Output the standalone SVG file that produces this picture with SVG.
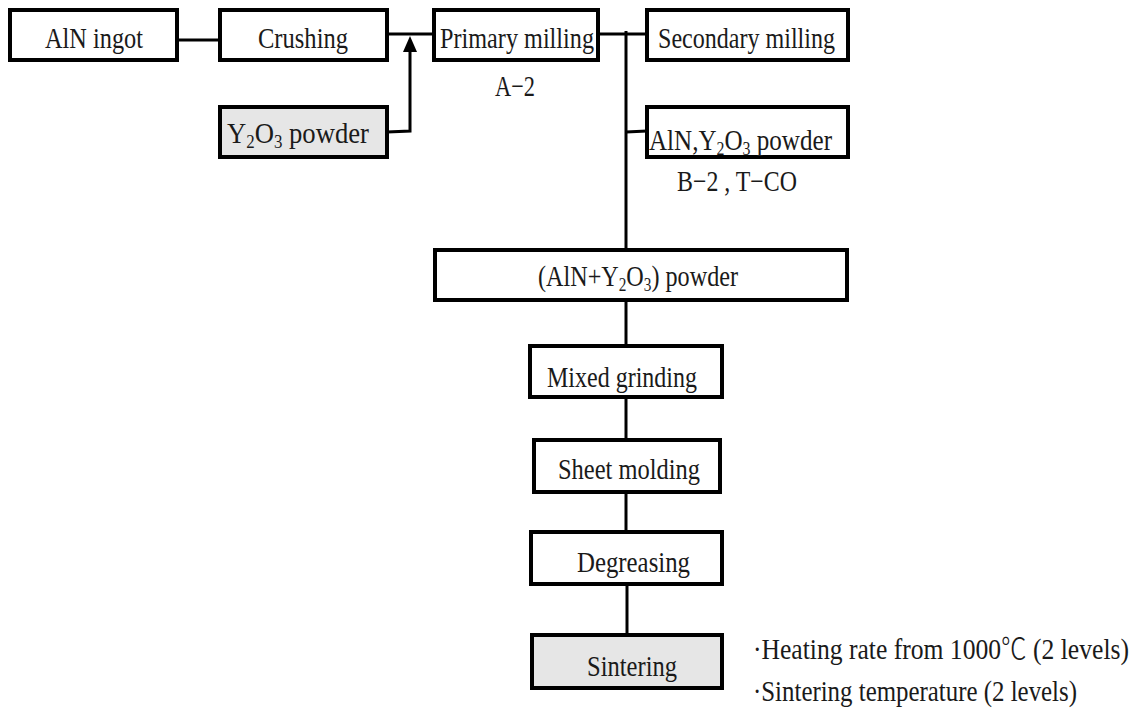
<svg xmlns="http://www.w3.org/2000/svg" width="1143" height="711" viewBox="0 0 1143 711">
  <defs>
    <style>
      .box { fill: #ffffff; stroke: #000000; stroke-width: 4; }
      .shade { fill: #e6e6e6; }
      .wire { fill: none; stroke: #000000; stroke-width: 3; }
      .lbl { font-family: "Liberation Serif", "DejaVu Serif", serif; font-size: 30px; fill: #1a1a1a; }
      .sub { font-size: 19px; }
      .unit { font-family: "Noto Sans CJK KR", "DejaVu Sans", sans-serif; font-weight: 300; }
    </style>
  </defs>
  <rect width="1143" height="711" fill="#ffffff"/>

  <!-- connectors -->
  <g id="connectors">
    <line class="wire" x1="177" y1="40" x2="220" y2="40" stroke-width="4"/>
    <line class="wire" x1="387" y1="34" x2="434" y2="34"/>
    <polyline class="wire" points="387,132 410,131 410,52"/>
    <path d="M403,52 L417,52 L410,36 Z" fill="#000000"/>
    <line class="wire" x1="598" y1="34" x2="647" y2="34"/>
    <line class="wire" x1="626" y1="31" x2="626" y2="250" stroke-width="4"/>
    <line class="wire" x1="626" y1="132" x2="647" y2="131"/>
    <line class="wire" x1="626" y1="300" x2="626" y2="346"/>
    <line class="wire" x1="626" y1="397" x2="626" y2="440"/>
    <line class="wire" x1="626" y1="492" x2="626" y2="532"/>
    <line class="wire" x1="627" y1="584" x2="627" y2="635"/>
  </g>

  <g id="aln-ingot">
    <rect class="box" x="10" y="10" width="167" height="50"/>
    <text class="lbl" x="45" y="48" textLength="98" lengthAdjust="spacingAndGlyphs">AlN ingot</text>
  </g>

  <g id="crushing">
    <rect class="box" x="220" y="10" width="167" height="50"/>
    <text class="lbl" x="258" y="48" textLength="90" lengthAdjust="spacingAndGlyphs">Crushing</text>
  </g>

  <g id="y2o3-powder">
    <rect class="box shade" x="220" y="107" width="167" height="50"/>
    <text class="lbl" x="227" y="143" textLength="142" lengthAdjust="spacingAndGlyphs">Y<tspan class="sub" dy="5">2</tspan><tspan dy="-5">O</tspan><tspan class="sub" dy="5">3</tspan><tspan dy="-5"> powder</tspan></text>
  </g>

  <g id="primary-milling">
    <rect class="box" x="434" y="10" width="164" height="50"/>
    <text class="lbl" x="440" y="48" textLength="154" lengthAdjust="spacingAndGlyphs">Primary milling</text>
    <text class="lbl" x="495" y="96" textLength="40" lengthAdjust="spacingAndGlyphs">A−2</text>
  </g>

  <g id="secondary-milling">
    <rect class="box" x="647" y="10" width="201" height="50"/>
    <text class="lbl" x="658" y="48" textLength="177" lengthAdjust="spacingAndGlyphs">Secondary milling</text>
  </g>

  <g id="aln-y2o3-powder">
    <rect class="box" x="647" y="107" width="201" height="50"/>
    <text class="lbl" x="649" y="150" textLength="183" lengthAdjust="spacingAndGlyphs">AlN,Y<tspan class="sub" dy="5">2</tspan><tspan dy="-5">O</tspan><tspan class="sub" dy="5">3</tspan><tspan dy="-5"> powder</tspan></text>
    <text class="lbl" x="677" y="191" textLength="120" lengthAdjust="spacingAndGlyphs">B−2 , T−CO</text>
  </g>

  <g id="mixed-powder">
    <rect class="box" x="435" y="250" width="412" height="50"/>
    <text class="lbl" x="538" y="286" textLength="200" lengthAdjust="spacingAndGlyphs">(AlN+Y<tspan class="sub" dy="5">2</tspan><tspan dy="-5">O</tspan><tspan class="sub" dy="5">3</tspan><tspan dy="-5">) powder</tspan></text>
  </g>

  <g id="mixed-grinding">
    <rect class="box" x="530" y="346" width="192" height="51" stroke-width="3"/>
    <text class="lbl" x="547" y="387" textLength="150" lengthAdjust="spacingAndGlyphs">Mixed grinding</text>
  </g>

  <g id="sheet-molding">
    <rect class="box" x="534" y="440" width="186" height="52" stroke-width="3"/>
    <text class="lbl" x="558" y="479" textLength="142" lengthAdjust="spacingAndGlyphs">Sheet molding</text>
  </g>

  <g id="degreasing">
    <rect class="box" x="531" y="532" width="191" height="52"/>
    <text class="lbl" x="577" y="572" textLength="113" lengthAdjust="spacingAndGlyphs">Degreasing</text>
  </g>

  <g id="sintering">
    <rect class="box shade" x="532" y="635" width="190" height="53"/>
    <text class="lbl" x="587" y="676" textLength="90" lengthAdjust="spacingAndGlyphs">Sintering</text>
  </g>

  <g id="sintering-notes">
    <text class="lbl" x="753" y="659" textLength="376" lengthAdjust="spacingAndGlyphs">·Heating rate from 1000<tspan class="unit">℃</tspan> (2 levels)</text>
    <text class="lbl" x="753" y="701" textLength="324" lengthAdjust="spacingAndGlyphs">·Sintering temperature (2 levels)</text>
  </g>
</svg>
